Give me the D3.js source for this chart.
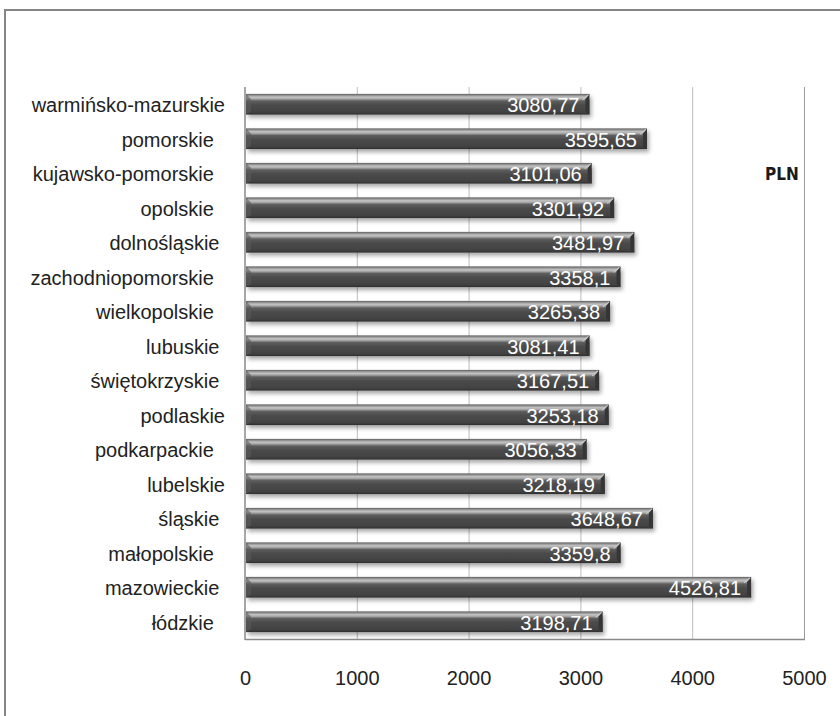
<!DOCTYPE html>
<html>
<head>
<meta charset="utf-8">
<script src="https://cdn.jsdelivr.net/npm/d3@7"></script>
<style>
  html, body { margin: 0; padding: 0; background: #ffffff; }
  svg { display: block; }
  text { font-family: "Liberation Sans", Arial, sans-serif; }
</style>
</head>
<body>
<svg id="chart" width="840" height="716"></svg>
<script>
// Average gross salary by voivodeship (PLN), top-to-bottom order
const regions = [
  "warmińsko-mazurskie", "pomorskie  ", "kujawsko-pomorskie  ", "opolskie  ",
  "dolnośląskie ", "zachodniopomorskie  ", "wielkopolskie  ", "lubuskie ",
  "świętokrzyskie ", "podlaskie", "podkarpackie  ", "lubelskie",
  "śląskie ", "małopolskie  ", "mazowieckie ", "łódzkie  "
];
const salaries = [
  3080.77, 3595.65, 3101.06, 3301.92,
  3481.97, 3358.1, 3265.38, 3081.41,
  3167.51, 3253.18, 3056.33, 3218.19,
  3648.67, 3359.8, 4526.81, 3198.71
];
const xTicks = [0, 1000, 2000, 3000, 4000, 5000];
const unitLabel = "PLN";

const rows = regions.map((name, i) => ({ name, value: salaries[i] }));

const svg = d3.select("#chart");

// outer chart frame (runs off the right and bottom edges)
svg.append("rect")
  .attr("x", 5).attr("y", 10)
  .attr("width", 900).attr("height", 800)
  .attr("fill", "#ffffff")
  .attr("stroke", "#858585").attr("stroke-width", 2);

const x = d3.scaleLinear().domain([0, 5000]).range([245, 804]);
const y = d3.scaleBand()
  .domain(regions)
  .range([87, 639])
  .paddingInner(0.4)
  .paddingOuter(0.2);

const defs = svg.append("defs");

// bevelled bar shading
const grad = defs.append("linearGradient")
  .attr("id", "barGrad").attr("x1", 0).attr("y1", 0).attr("x2", 0).attr("y2", 1);
[
  [0.00, "#5c5c5c"], [0.07, "#8e8e8e"], [0.16, "#c4c4c4"], [0.24, "#a8a8a8"],
  [0.34, "#5e5e5e"], [0.55, "#4a4a4a"], [0.88, "#424242"], [1.00, "#2f2f2f"]
].forEach(([o, c]) => grad.append("stop").attr("offset", o).attr("stop-color", c));

const shadow = defs.append("filter")
  .attr("id", "barShadow")
  .attr("x", "-5%").attr("y", "-40%").attr("width", "115%").attr("height", "200%");
shadow.append("feDropShadow")
  .attr("dx", 2).attr("dy", 3).attr("stdDeviation", 2)
  .attr("flood-color", "#000").attr("flood-opacity", 0.35);

// vertical gridlines
svg.append("g")
  .selectAll("line")
  .data(xTicks.filter(t => t > 0))
  .join("line")
  .attr("x1", d => x(d) + 0.5).attr("x2", d => x(d) + 0.5)
  .attr("y1", y.range()[0]).attr("y2", y.range()[1])
  .attr("stroke", d => d === 5000 ? "#9a9a9a" : "#bdbdbd")
  .attr("stroke-width", 1);

// axis lines
svg.append("line")
  .attr("x1", x(0)).attr("x2", x(0))
  .attr("y1", y.range()[0]).attr("y2", y.range()[1] + 1)
  .attr("stroke", "#8a8a8a").attr("stroke-width", 1.5);
svg.append("line")
  .attr("x1", x(0)).attr("x2", x(5000) + 1)
  .attr("y1", y.range()[1] + 0.5).attr("y2", y.range()[1] + 0.5)
  .attr("stroke", "#8a8a8a").attr("stroke-width", 1.5);

// bars
const bh = y.bandwidth();
const bars = svg.append("g").selectAll("g").data(rows).join("g");

bars.append("rect")
  .attr("x", x(0) + 1)
  .attr("y", d => y(d.name))
  .attr("width", d => x(d.value) - x(0) - 1)
  .attr("height", bh)
  .attr("fill", "url(#barGrad)")
  .attr("filter", "url(#barShadow)");

// right-hand bevel of each bar
bars.append("path")
  .attr("d", d => {
    const x1 = x(d.value), y0 = y(d.name);
    return `M${x1 - 4},${y0 + 5} L${x1},${y0} L${x1},${y0 + bh} L${x1 - 4},${y0 + bh - 3} Z`;
  })
  .attr("fill", "#353535");
bars.append("line")
  .attr("x1", d => x(d.value) - 7).attr("y1", d => y(d.name) + 6)
  .attr("x2", d => x(d.value) - 1).attr("y2", d => y(d.name) + 1)
  .attr("stroke", "#c9c9c9").attr("stroke-width", 1.2);

// left-hand bevel
bars.append("path")
  .attr("d", d => {
    const x0 = x(0) + 1, y0 = y(d.name);
    return `M${x0},${y0} L${x0 + 5},${y0 + 5} L${x0 + 5},${y0 + bh - 3} L${x0},${y0 + bh} Z`;
  })
  .attr("fill", "#5a5a5a").attr("opacity", 0.6);

// value labels inside the bars
bars.append("text")
  .attr("x", d => x(d.value) - 10)
  .attr("y", d => y(d.name) + bh / 2 + 8)
  .attr("text-anchor", "end")
  .attr("font-size", 20)
  .attr("fill", "#ffffff")
  .text(d => String(d.value).replace(".", ","));

// category labels
svg.append("g").selectAll("text")
  .data(rows)
  .join("text")
  .attr("x", 225)
  .attr("y", d => y(d.name) + bh / 2 + 8)
  .attr("text-anchor", "end")
  .attr("xml:space", "preserve")
  .style("white-space", "pre")
  .attr("font-size", 20)
  .attr("fill", "#222222")
  .text(d => d.name);

// x axis tick labels
const xAxis = d3.axisBottom(x)
  .tickValues(xTicks)
  .tickSize(0)
  .tickPadding(0)
  .tickFormat(d3.format("d"));
const gx = svg.append("g")
  .attr("transform", `translate(0, 671)`)
  .call(xAxis);
gx.select(".domain").remove();
gx.selectAll("text")
  .attr("font-family", "Liberation Sans, Arial, sans-serif")
  .attr("font-size", 20)
  .attr("fill", "#222222");

// unit label
svg.append("text")
  .attr("x", 782)
  .attr("y", 180)
  .attr("text-anchor", "middle")
  .style("font-family", "'DejaVu Sans Condensed', 'DejaVu Sans', sans-serif")
  .attr("font-size", 17)
  .attr("font-weight", "bold")
  .attr("fill", "#1a1a1a")
  .text(unitLabel);
</script>
</body>
</html>
